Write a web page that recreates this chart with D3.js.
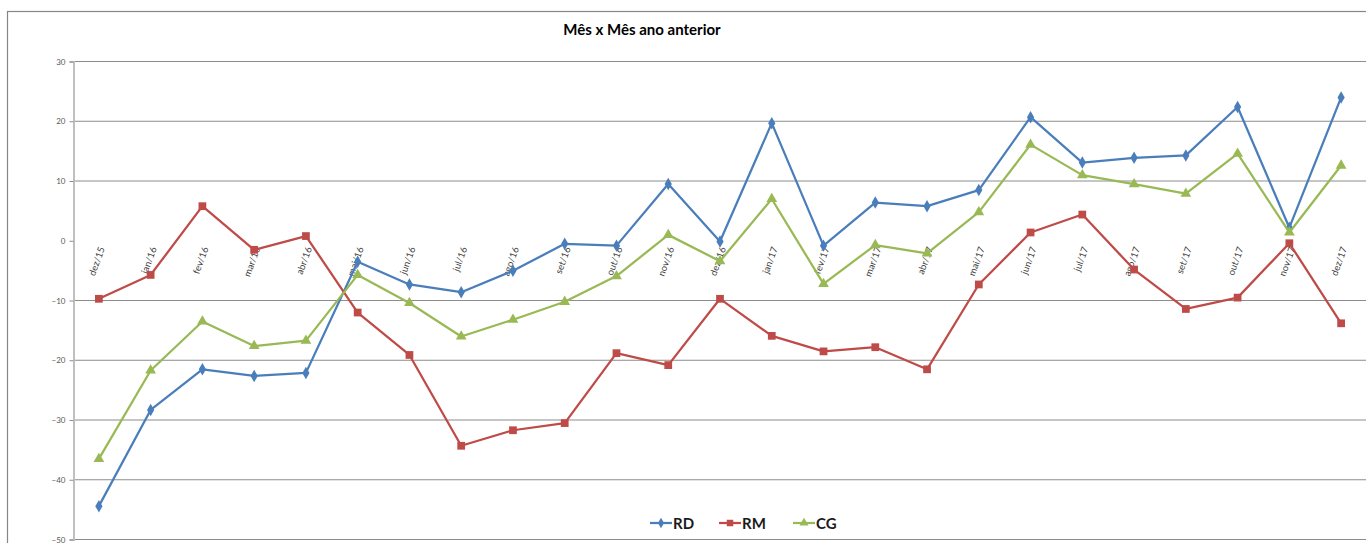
<!DOCTYPE html>
<html>
<head>
<meta charset="utf-8">
<script src="https://cdn.jsdelivr.net/npm/d3@7"></script>
<style>
  body { margin: 0; background: #fff; }
  svg { display: block; font-family: Lato, "Open Sans", sans-serif; }
</style>
</head>
<body>
<svg width="1366" height="543"></svg>
<script>
// Data
const categories = ["dez/15", "jan/16", "fev/16", "mar/16", "abr/16", "mai/16", "jun/16", "jul/16",
  "ago/16", "set/16", "out/16", "nov/16", "dez/16", "jan/17", "fev/17", "mar/17", "abr/17",
  "mai/17", "jun/17", "jul/17", "ago/17", "set/17", "out/17", "nov/17", "dez/17"];

const rd = [-44.5, -28.4, -21.6, -22.7, -22.2, -3.6, -7.4, -8.7, -5.1, -0.6, -0.9, 9.4, -0.2,
  19.6, -0.9, 6.3, 5.7, 8.4, 20.6, 13.0, 13.8, 14.2, 22.3, 2.1, 23.9];
const rm = [-9.8, -5.8, 5.7, -1.6, 0.7, -12.1, -19.2, -34.4, -31.8, -30.6, -18.9, -20.9, -9.8,
  -16.0, -18.6, -17.9, -21.6, -7.4, 1.3, 4.3, -4.9, -11.5, -9.6, -0.5, -13.9];
const cg = [-36.6, -21.8, -13.6, -17.7, -16.8, -5.8, -10.5, -16.1, -13.3, -10.3, -6.0, 0.9, -3.5,
  6.9, -7.3, -0.8, -2.2, 4.7, 16.0, 10.9, 9.4, 7.8, 14.5, 1.3, 12.5];

const yTicks = [30, 20, 10, 0, -10, -20, -30, -40, -50];

const series = [
  { name: "RD", values: rd, color: "#4a7ebb", symbol: d3.symbolDiamond, size: 45 },
  { name: "RM", values: rm, color: "#be4b48", symbol: d3.symbolSquare, size: 60 },
  { name: "CG", values: cg, color: "#98b954", symbol: d3.symbolTriangle, size: 50 }
];

const svg = d3.select("svg");

// chart border (only top and left show)
svg.append("rect")
  .attr("x", 7.5).attr("y", 11.5)
  .attr("width", 1400).attr("height", 600)
  .attr("fill", "none").attr("stroke", "#868686").attr("stroke-width", 1.2);

// Scales
const x = d3.scaleBand().domain(categories).range([73, 1367]);
const cx = d => x(d) + x.bandwidth() / 2;
const y = d3.scaleLinear().domain([-50, 30]).range([539, 61]);

// Title
svg.append("text")
  .attr("x", 642).attr("y", 35)
  .attr("text-anchor", "middle")
  .attr("font-weight", "bold").attr("font-size", 15)
  .attr("fill", "#000")
  .text("Mês x Mês ano anterior");

// Gridlines (zero line is hidden by the category axis)
svg.append("g")
  .selectAll("line")
  .data(yTicks.filter(t => t !== 0))
  .join("line")
  .attr("x1", 73).attr("x2", 1366)
  .attr("y1", d => y(d) + 0.5).attr("y2", d => y(d) + 0.5)
  .attr("stroke", "#8c8c8c").attr("stroke-width", 1);

// Y axis
const yAxis = svg.append("g")
  .attr("transform", "translate(73.5,0.5)")
  .call(d3.axisLeft(y).tickValues(yTicks).tickSize(4).tickPadding(4).tickFormat(d3.format("d")));
yAxis.select(".domain").attr("stroke", "#bfbfbf").attr("stroke-width", 2);
yAxis.selectAll(".tick line").attr("stroke", "#8c8c8c");
yAxis.selectAll(".tick text")
  .attr("font-size", 8).attr("fill", "#595959")
  .attr("font-family", "Lato, 'Open Sans', sans-serif");

// Category labels, rotated, below the zero line
svg.append("g")
  .selectAll("text")
  .data(categories)
  .join("text")
  .attr("transform", d => `translate(${cx(d) + 3},${y(0) + 7}) rotate(-70)`)
  .attr("text-anchor", "end")
  .attr("dy", "0.35em")
  .attr("font-size", 9.5)
  .attr("fill", "#404040")
  .text(d => d);

// Lines and markers
const line = d3.line()
  .x((d, i) => cx(categories[i]))
  .y(d => y(d));

series.forEach(s => {
  const g = svg.append("g");
  g.append("path")
    .attr("d", line(s.values))
    .attr("fill", "none")
    .attr("stroke", s.color)
    .attr("stroke-width", 2.25)
    .attr("stroke-linejoin", "round");
  g.selectAll("path.mark")
    .data(s.values)
    .join("path")
    .attr("class", "mark")
    .attr("transform", (d, i) => `translate(${cx(categories[i])},${y(d)})`)
    .attr("d", d3.symbol().type(s.symbol).size(s.size))
    .attr("fill", s.color);
});

// Legend
const legendX = [650, 719, 793];
const legend = svg.append("g");
series.forEach((s, i) => {
  const lg = legend.append("g").attr("transform", `translate(${legendX[i]},523)`);
  lg.append("line")
    .attr("x1", 0).attr("x2", 22)
    .attr("stroke", s.color).attr("stroke-width", 2.25);
  lg.append("path")
    .attr("transform", "translate(11,0)")
    .attr("d", d3.symbol().type(s.symbol).size(s.size * 0.7))
    .attr("fill", s.color);
  lg.append("text")
    .attr("x", 23).attr("y", 5.5)
    .attr("font-size", 15).attr("font-weight", "bold")
    .attr("fill", "#1a1a1a")
    .text(s.name);
});
</script>
</body>
</html>
